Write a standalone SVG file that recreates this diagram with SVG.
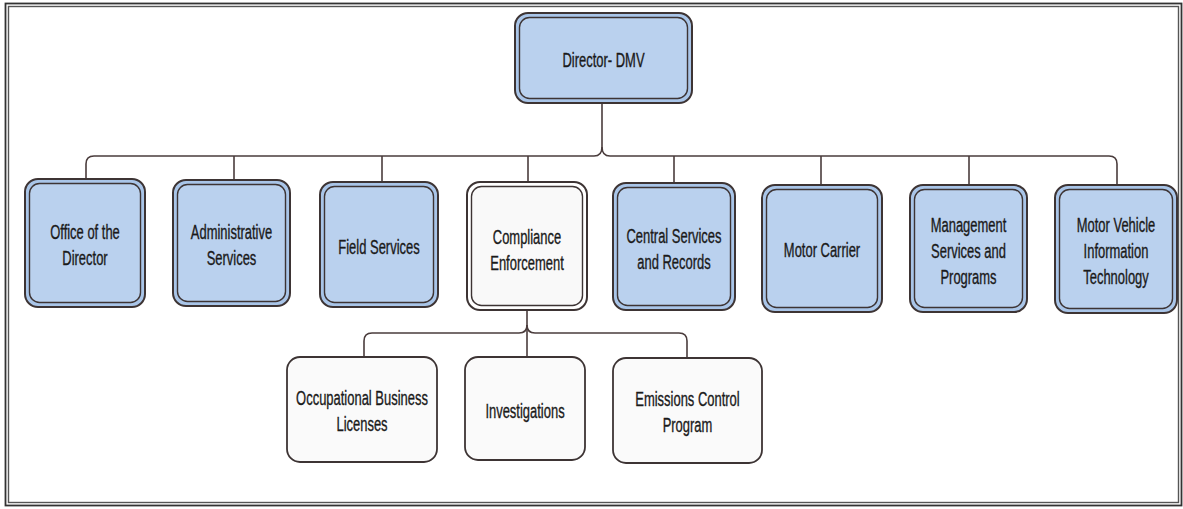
<svg xmlns="http://www.w3.org/2000/svg" width="1183" height="509" viewBox="0 0 1183 509">
<style>
.frame{fill:none;stroke:#333333;stroke-width:1.8}
.frame2{fill:none;stroke:#555555;stroke-width:1.4}
.outer{fill:#a9c5e8;stroke:#3d3434;stroke-width:2}
.inner{fill:#bad1ee;stroke:#3d3434;stroke-width:1.4}
.outerw{fill:#ffffff;stroke:#3d3434;stroke-width:2}
.innerw{fill:#f9f9f9;stroke:#3d3434;stroke-width:1.4}
.sub{fill:#fafafa;stroke:#3d3434;stroke-width:1.8}
.conn{fill:none;stroke:#4a3c3c;stroke-width:1.6}
text{font-family:"Liberation Sans",Arial,sans-serif;font-size:19.5px;fill:#1a1a1a;stroke:#1a1a1a;stroke-width:0.35;text-anchor:middle}
</style>
<rect width="1183" height="509" fill="#ffffff"/>
<rect class="frame" x="5.5" y="3.5" width="1176" height="502"/>
<rect class="frame2" x="8.5" y="6.5" width="1170" height="496"/>

<g id="connectors">
  <path class="conn" d="M602,103 V147 Q602,156 594,156 H94 Q86,156 86,164 V180"/>
  <path class="conn" d="M602,147 Q602,156 610,156 H1109 Q1117,156 1117,164 V186"/>
  <path class="conn" d="M234,156 V181"/>
  <path class="conn" d="M382,156 V183"/>
  <path class="conn" d="M528,156 V183"/>
  <path class="conn" d="M674,156 V184"/>
  <path class="conn" d="M821,156 V186"/>
  <path class="conn" d="M969,156 V186"/>
  <path class="conn" d="M527,310 V357"/>
  <path class="conn" d="M364,357 V341 Q364,333 372,333 H519 Q527,333 527,325"/>
  <path class="conn" d="M527,325 Q527,333 535,333 H679 Q687,333 687,341 V358"/>
</g>

<g id="director">
  <rect class="outer" x="515" y="13" width="177" height="90" rx="13"/>
  <rect class="inner" x="519.5" y="17.5" width="168" height="81" rx="10"/>
  <g transform="translate(603.5,67) scale(0.665,1)"><text x="0" y="0">Director- DMV</text></g>
</g>

<g id="office-director">
  <rect class="outer" x="25" y="179" width="120" height="128" rx="13"/>
  <rect class="inner" x="29.5" y="183.5" width="111" height="119" rx="10"/>
  <g transform="translate(85,0) scale(0.665,1)"><text x="0" y="239">Office of the</text><text x="0" y="265">Director</text></g>
</g>

<g id="administrative">
  <rect class="outer" x="173" y="180" width="117" height="126" rx="13"/>
  <rect class="inner" x="177.5" y="184.5" width="108" height="117" rx="10"/>
  <g transform="translate(231.5,0) scale(0.665,1)"><text x="0" y="239">Administrative</text><text x="0" y="265">Services</text></g>
</g>

<g id="field-services">
  <rect class="outer" x="320" y="182" width="118" height="125" rx="13"/>
  <rect class="inner" x="324.5" y="186.5" width="109" height="116" rx="10"/>
  <g transform="translate(379,0) scale(0.665,1)"><text x="0" y="254">Field Services</text></g>
</g>

<g id="compliance">
  <rect class="outerw" x="467" y="182" width="120" height="128" rx="13"/>
  <rect class="innerw" x="471.5" y="186.5" width="111" height="119" rx="10"/>
  <g transform="translate(527,0) scale(0.665,1)"><text x="0" y="244">Compliance</text><text x="0" y="270">Enforcement</text></g>
</g>

<g id="central-services">
  <rect class="outer" x="613" y="183" width="122" height="127" rx="13"/>
  <rect class="inner" x="617.5" y="187.5" width="113" height="118" rx="10"/>
  <g transform="translate(674,0) scale(0.665,1)"><text x="0" y="243">Central Services</text><text x="0" y="269">and Records</text></g>
</g>

<g id="motor-carrier">
  <rect class="outer" x="762" y="185" width="120" height="127" rx="13"/>
  <rect class="inner" x="766.5" y="189.5" width="111" height="118" rx="10"/>
  <g transform="translate(822,0) scale(0.665,1)"><text x="0" y="257">Motor Carrier</text></g>
</g>

<g id="management">
  <rect class="outer" x="910" y="185" width="117" height="127" rx="13"/>
  <rect class="inner" x="914.5" y="189.5" width="108" height="118" rx="10"/>
  <g transform="translate(968.5,0) scale(0.665,1)"><text x="0" y="232">Management</text><text x="0" y="258">Services and</text><text x="0" y="284">Programs</text></g>
</g>

<g id="mv-it">
  <rect class="outer" x="1055" y="185" width="122" height="128" rx="13"/>
  <rect class="inner" x="1059.5" y="189.5" width="113" height="119" rx="10"/>
  <g transform="translate(1116,0) scale(0.665,1)"><text x="0" y="232">Motor Vehicle</text><text x="0" y="258">Information</text><text x="0" y="284">Technology</text></g>
</g>

<g id="occupational">
  <rect class="sub" x="287" y="357" width="150" height="105" rx="13"/>
  <g transform="translate(362,0) scale(0.665,1)"><text x="0" y="405">Occupational Business</text><text x="0" y="431">Licenses</text></g>
</g>

<g id="investigations">
  <rect class="sub" x="465" y="357" width="120" height="103" rx="13"/>
  <g transform="translate(525,0) scale(0.665,1)"><text x="0" y="418">Investigations</text></g>
</g>

<g id="emissions">
  <rect class="sub" x="613" y="358" width="149" height="105" rx="13"/>
  <g transform="translate(687.5,0) scale(0.665,1)"><text x="0" y="406">Emissions Control</text><text x="0" y="432">Program</text></g>
</g>
</svg>
